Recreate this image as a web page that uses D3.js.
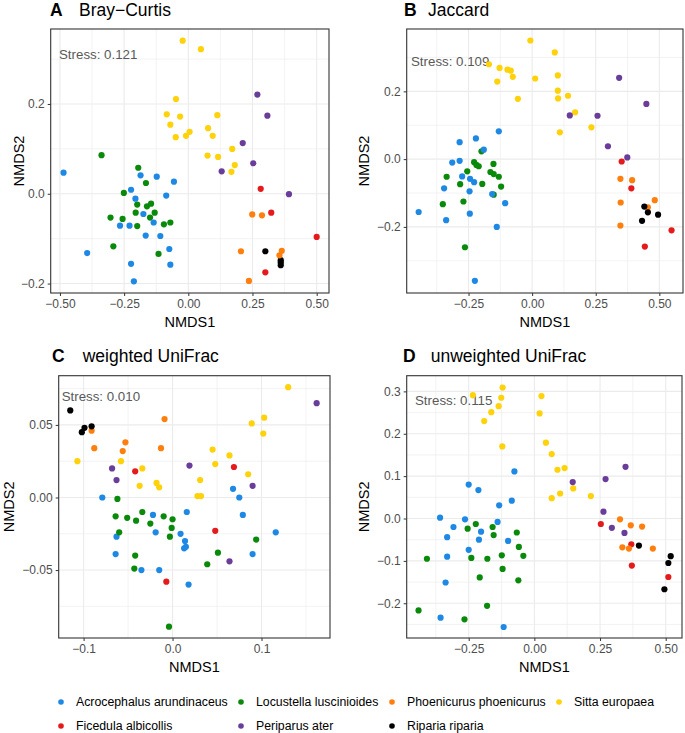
<!DOCTYPE html>
<html><head><meta charset="utf-8">
<script src="https://cdn.jsdelivr.net/npm/d3@7"></script>
<style>body{margin:0;background:#fff}svg{display:block;font-family:"Liberation Sans",Arial,sans-serif}</style>
</head><body><svg id="chart" width="685" height="733"></svg>
<script>
// species (alphabetical, ggplot order) and colours
const species = ["Acrocephalus arundinaceus","Ficedula albicollis","Locustella luscinioides","Periparus ater","Phoenicurus phoenicurus","Riparia riparia","Sitta europaea"];
const speciesColors = ["#1E88E5","#E41A1C","#0A8A0A","#6A3D9A","#FF7F0E","#000000","#FFD20A"];

// panel A: Bray-Curtis  [species index, NMDS1, NMDS2]
const brayCurtis = [
[6,-0.022,0.341],[6,0.049,0.322],[6,-0.048,0.211],[6,-0.084,0.177],[6,-0.032,0.172],[6,-0.070,0.154],[6,-0.049,0.126],[6,-0.009,0.129],[6,0.005,0.138],[6,0.113,0.175],[6,0.077,0.146],[6,0.095,0.129],[6,0.075,0.085],[6,0.116,0.082],[6,0.171,0.100],[6,0.181,0.064],[6,0.168,0.049],
[3,0.269,0.221],[3,0.308,0.174],[3,0.212,0.113],[3,0.253,0.068],[3,0.130,0.050],[3,0.392,-0.001],
[1,0.282,0.011],[1,0.323,-0.042],[1,0.500,-0.096],[1,0.300,-0.175],
[5,0.300,-0.128],[5,0.360,-0.148],[5,0.360,-0.153],[5,0.360,-0.159],
[4,0.249,-0.046],[4,0.287,-0.048],[4,0.205,-0.128],[4,0.236,-0.194],[4,0.364,-0.127],[4,0.355,-0.137],
[2,-0.338,0.086],[2,-0.195,0.058],[2,-0.165,0.024],[2,-0.251,0.002],[2,-0.199,-0.024],[2,-0.205,-0.042],[2,-0.161,-0.028],[2,-0.145,-0.022],[2,-0.131,-0.042],[2,-0.149,-0.053],[2,-0.303,-0.053],[2,-0.256,-0.056],[2,-0.199,-0.072],[2,-0.095,-0.068],[2,-0.070,-0.064],[2,-0.292,-0.117],[2,-0.116,-0.134],
[0,-0.486,0.047],[0,-0.394,-0.132],[0,-0.223,0.009],[0,-0.186,0.041],[0,-0.123,0.038],[0,-0.056,0.027],[0,-0.206,-0.011],[0,-0.086,-0.004],[0,-0.175,-0.045],[0,-0.135,-0.064],[0,-0.266,-0.071],[0,-0.229,-0.071],[0,-0.166,-0.093],[0,-0.109,-0.094],[0,-0.074,-0.123],[0,-0.070,-0.158],[0,-0.223,-0.156],[0,-0.212,-0.195]
];

// panel B: Jaccard
const jaccard = [
[6,-0.007,0.350],[6,0.089,0.315],[6,-0.170,0.280],[6,-0.128,0.269],[6,-0.097,0.264],[6,-0.084,0.261],[6,-0.076,0.243],[6,-0.137,0.229],[6,0.012,0.238],[6,0.101,0.247],[6,0.101,0.202],[6,0.102,0.179],[6,-0.056,0.178],[6,0.141,0.187],[6,0.169,0.138],[6,0.233,0.094],[6,0.109,0.079],
[3,0.342,0.240],[3,0.449,0.163],[3,0.148,0.129],[3,0.257,0.128],[3,0.298,0.038],[3,0.374,0.005],
[1,0.352,-0.007],[1,0.390,-0.086],[1,0.548,-0.210],[1,0.443,-0.258],
[4,0.347,-0.058],[4,0.393,-0.062],[4,0.348,-0.128],[4,0.347,-0.196],[4,0.482,-0.121],[4,0.455,-0.142],
[5,0.441,-0.140],[5,0.455,-0.157],[5,0.495,-0.164],[5,0.432,-0.182],
[2,-0.199,0.023],[2,-0.228,-0.009],[2,-0.219,-0.017],[2,-0.210,-0.021],[2,-0.255,-0.036],[2,-0.336,-0.052],[2,-0.283,-0.074],[2,-0.196,-0.073],[2,-0.164,-0.038],[2,-0.151,-0.044],[2,-0.152,-0.014],[2,-0.131,-0.052],[2,-0.122,-0.081],[2,-0.151,-0.105],[2,-0.270,-0.125],[2,-0.351,-0.133],[2,-0.264,-0.260],
[0,-0.131,0.082],[0,-0.221,0.061],[0,-0.285,0.050],[0,-0.190,0.028],[0,-0.285,-0.005],[0,-0.314,-0.010],[0,-0.275,-0.051],[0,-0.244,-0.058],[0,-0.228,-0.068],[0,-0.246,-0.095],[0,-0.346,-0.086],[0,-0.157,-0.103],[0,-0.106,-0.130],[0,-0.245,-0.161],[0,-0.338,-0.180],[0,-0.139,-0.200],[0,-0.446,-0.156],[0,-0.225,-0.359]
];

// panel C: weighted UniFrac
const weightedUniFrac = [
[4,-0.091,0.046],[4,-0.088,0.034],[4,-0.053,0.038],[4,-0.056,0.032],[4,-0.009,0.054],[4,-0.013,0.034],
[5,-0.115,0.060],[5,-0.099,0.048],[5,-0.102,0.045],[5,-0.091,0.049],
[6,-0.107,0.025],[6,-0.058,0.025],[6,-0.034,0.020],[6,-0.037,0.008],[6,-0.018,0.010],[6,-0.015,0.007],[6,0.130,0.076],[6,0.089,0.051],[6,0.103,0.055],[6,0.102,0.044],[6,0.045,0.033],[6,0.048,0.023],[6,0.064,0.029],[6,0.031,0.012],[6,0.085,0.016],[6,0.028,0.001],[6,0.032,0.001],
[3,-0.068,0.020],[3,-0.063,0.012],[3,0.019,0.022],[3,0.162,0.065],[3,0.090,0.008],[3,0.064,-0.044],
[1,-0.042,0.018],[1,0.069,0.021],[1,0.048,-0.023],[1,-0.007,-0.058],
[0,-0.079,0.000],[0,-0.063,-0.027],[0,-0.064,-0.039],[0,-0.022,-0.012],[0,-0.019,-0.024],[0,-0.035,-0.050],[0,-0.015,-0.050],[0,0.009,-0.025],[0,0.016,-0.010],[0,0.014,-0.030],[0,0.013,-0.035],[0,0.015,-0.034],[0,0.018,-0.060],[0,0.068,0.006],[0,0.075,0.000],[0,0.079,-0.012],[0,0.116,-0.024],[0,0.090,-0.039],
[2,-0.062,-0.001],[2,-0.064,-0.013],[2,-0.060,-0.024],[2,-0.051,-0.014],[2,-0.041,-0.016],[2,-0.034,-0.010],[2,-0.025,-0.018],[2,-0.010,-0.013],[2,0.000,-0.015],[2,-0.001,-0.021],[2,-0.003,-0.027],[2,-0.042,-0.040],[2,-0.043,-0.049],[2,0.051,-0.038],[2,0.039,-0.046],[2,0.094,-0.029],[2,-0.004,-0.089]
];

// panel D: unweighted UniFrac
const unweightedUniFrac = [
[6,-0.234,0.291],[6,-0.121,0.309],[6,-0.126,0.285],[6,-0.136,0.265],[6,-0.164,0.251],[6,-0.191,0.230],[6,-0.122,0.170],[6,0.027,0.289],[6,0.020,0.248],[6,0.044,0.179],[6,0.066,0.152],[6,0.088,0.115],[6,0.115,0.119],[6,0.148,0.071],[6,0.098,0.059],[6,0.066,0.048],[6,0.215,0.053],
[3,0.146,0.086],[3,0.271,0.093],[3,0.347,0.122],[3,0.263,0.016],[3,0.295,-0.022],[3,0.343,-0.034],
[1,0.253,-0.013],[1,0.369,-0.061],[1,0.371,-0.111],[1,0.510,-0.138],
[4,0.326,-0.002],[4,0.367,-0.016],[4,0.410,-0.019],[4,0.335,-0.068],[4,0.360,-0.071],[4,0.451,-0.071],
[5,0.398,-0.064],[5,0.519,-0.089],[5,0.510,-0.105],[5,0.495,-0.167],
[0,-0.359,0.002],[0,-0.264,-0.002],[0,-0.250,0.080],[0,-0.213,0.067],[0,-0.308,-0.020],[0,-0.332,-0.044],[0,-0.203,-0.031],[0,-0.211,-0.050],[0,-0.250,-0.074],[0,-0.332,-0.090],[0,-0.338,-0.151],[0,-0.357,-0.234],[0,-0.140,-0.008],[0,-0.134,0.031],[0,-0.086,0.042],[0,-0.076,0.111],[0,-0.100,-0.053],[0,-0.117,-0.256],
[2,-0.409,-0.095],[2,-0.441,-0.217],[2,-0.254,-0.024],[2,-0.223,-0.013],[2,-0.240,-0.093],[2,-0.159,-0.020],[2,-0.155,-0.039],[2,-0.179,-0.095],[2,-0.124,-0.087],[2,-0.121,-0.119],[2,-0.208,-0.139],[2,-0.180,-0.206],[2,-0.266,-0.238],[2,-0.067,-0.033],[2,-0.059,-0.067],[2,-0.042,-0.088],[2,-0.061,-0.146]
];

const panelLetters = ["A","B","C","D"];
const panelTitles = ["Bray\u2212Curtis","Jaccard","weighted UniFrac","unweighted UniFrac"];
const stressValues = ["0.121","0.109","0.010","0.115"];

const xTicksA = [-0.5,-0.25,0,0.25,0.5], yTicksA = [-0.2,0,0.2];
const xTicksB = [-0.25,0,0.25,0.5],      yTicksB = [-0.2,0,0.2];
const xTicksC = [-0.1,0,0.1],            yTicksC = [-0.05,0,0.05];
const xTicksD = [-0.25,0,0.25,0.5],      yTicksD = [-0.2,-0.1,0,0.1,0.2,0.3];

// layout (not data)
const panels = [
  {data:brayCurtis, xd:[-0.536,0.548], yd:[-0.221,0.367], x0:50.7, x1:329, y0:29, y1:293, xt:xTicksA, yt:yTicksA, xf:2, yf:1, ylabX:19, titleX:50, titleTX:79, titleY:16, stX:59, stY:59},
  {data:jaccard, xd:[-0.493,0.593], yd:[-0.395,0.384], x0:406.7, x1:683, y0:29, y1:293, xt:xTicksB, yt:yTicksB, xf:2, yf:1, ylabX:364, titleX:404, titleTX:428, titleY:16, stX:411, stY:66},
  {data:weightedUniFrac, xd:[-0.128,0.177], yd:[-0.0968,0.0839], x0:58.7, x1:330, y0:375.7, y1:638, xt:xTicksC, yt:yTicksC, xf:1, yf:2, ylabX:9, titleX:52, titleTX:82.7, titleY:362, stX:61.7, stY:401},
  {data:unweightedUniFrac, xd:[-0.486,0.562], yd:[-0.282,0.337], x0:406.7, x1:682, y0:375.7, y1:638, xt:xTicksD, yt:yTicksD, xf:2, yf:1, ylabX:364, titleX:403, titleTX:430.7, titleY:362, stX:415, stY:405}
];

const svg = d3.select("#chart");
const fmt = (d, n) => { const s = Math.abs(d).toFixed(n); return (d < -1e-9 ? "\u2212" : "") + s; };

panels.forEach((p, i) => {
  const x = d3.scaleLinear().domain(p.xd).range([p.x0, p.x1]);
  const y = d3.scaleLinear().domain(p.yd).range([p.y1, p.y0]);
  const g = svg.append("g");
  g.append("rect").attr("x",p.x0).attr("y",p.y0).attr("width",p.x1-p.x0).attr("height",p.y1-p.y0).attr("fill","#fff");
  // minor grid
  const stepX = p.xt[1]-p.xt[0], stepY = p.yt[1]-p.yt[0];
  const minorX = [], minorY = [];
  for (let v = p.xt[0]-stepX/2; v < p.xd[1]; v += stepX) if (v > p.xd[0]) minorX.push(v);
  for (let v = p.yt[0]-stepY/2; v < p.yd[1]; v += stepY) if (v > p.yd[0]) minorY.push(v);
  g.selectAll(".mx").data(minorX).join("line").attr("x1",d=>x(d)).attr("x2",d=>x(d)).attr("y1",p.y0).attr("y2",p.y1).attr("stroke","#EBEBEB").attr("stroke-width",0.6);
  g.selectAll(".my").data(minorY).join("line").attr("y1",d=>y(d)).attr("y2",d=>y(d)).attr("x1",p.x0).attr("x2",p.x1).attr("stroke","#EBEBEB").attr("stroke-width",0.6);
  g.selectAll(".gx").data(p.xt).join("line").attr("x1",d=>x(d)).attr("x2",d=>x(d)).attr("y1",p.y0).attr("y2",p.y1).attr("stroke","#EBEBEB").attr("stroke-width",1.1);
  g.selectAll(".gy").data(p.yt).join("line").attr("y1",d=>y(d)).attr("y2",d=>y(d)).attr("x1",p.x0).attr("x2",p.x1).attr("stroke","#EBEBEB").attr("stroke-width",1.1);
  // axes
  const xa = g.append("g").attr("transform",`translate(0,${p.y1})`)
    .call(d3.axisBottom(x).tickValues(p.xt).tickSize(3).tickPadding(3).tickFormat(d=>fmt(d,p.xf)));
  const ya = g.append("g").attr("transform",`translate(${p.x0},0)`)
    .call(d3.axisLeft(y).tickValues(p.yt).tickSize(3).tickPadding(3).tickFormat(d=>fmt(d,p.yf)));
  [xa, ya].forEach(a => {
    a.select(".domain").remove();
    a.selectAll(".tick line").attr("stroke","#333").attr("stroke-width",1);
    a.selectAll(".tick text").attr("fill","#4D4D4D").style("font-size","12px").style("font-family","'Liberation Sans',Arial,sans-serif");
  });
  // stress
  g.append("text").attr("x",p.stX).attr("y",p.stY).attr("fill","#595959").style("font-size","13.3px").text("Stress: " + stressValues[i]);
  // points
  g.selectAll(".pt").data(p.data).join("circle")
    .attr("cx",d=>x(d[1])).attr("cy",d=>y(d[2])).attr("r",3.1).attr("fill",d=>speciesColors[d[0]]);
  // border
  g.append("rect").attr("x",p.x0).attr("y",p.y0).attr("width",p.x1-p.x0).attr("height",p.y1-p.y0).attr("fill","none").attr("stroke","#333").attr("stroke-width",1.1);
  // axis titles
  g.append("text").attr("x",(p.x0+p.x1)/2).attr("y",p.y1+34).attr("text-anchor","middle").style("font-size","14.5px").attr("fill","#000").text("NMDS1");
  g.append("text").attr("transform",`translate(${p.ylabX},${(p.y0+p.y1)/2}) rotate(-90)`).attr("dy","0.35em").attr("text-anchor","middle").style("font-size","14.5px").attr("fill","#000").text("NMDS2");
  // title
  g.append("text").attr("x",p.titleX).attr("y",p.titleY).style("font-size","17.5px").style("font-weight","bold").text(panelLetters[i]);
  g.append("text").attr("x",p.titleTX).attr("y",p.titleY).style("font-size","17.5px").text(panelTitles[i]);
});

// legend (two rows, filled by column)
const legCols = [61, 241, 392, 559];
const legRows = [702, 726];
const leg = svg.append("g");
species.forEach((s, i) => {
  const cx = legCols[Math.floor(i/2)], cy = legRows[i%2];
  leg.append("circle").attr("cx",cx).attr("cy",cy).attr("r",2.8).attr("fill",speciesColors[i]);
  leg.append("text").attr("x",cx+15).attr("y",cy).attr("dy","0.35em").style("font-size","12.3px").attr("fill","#000").text(s);
});
</script></body></html>
